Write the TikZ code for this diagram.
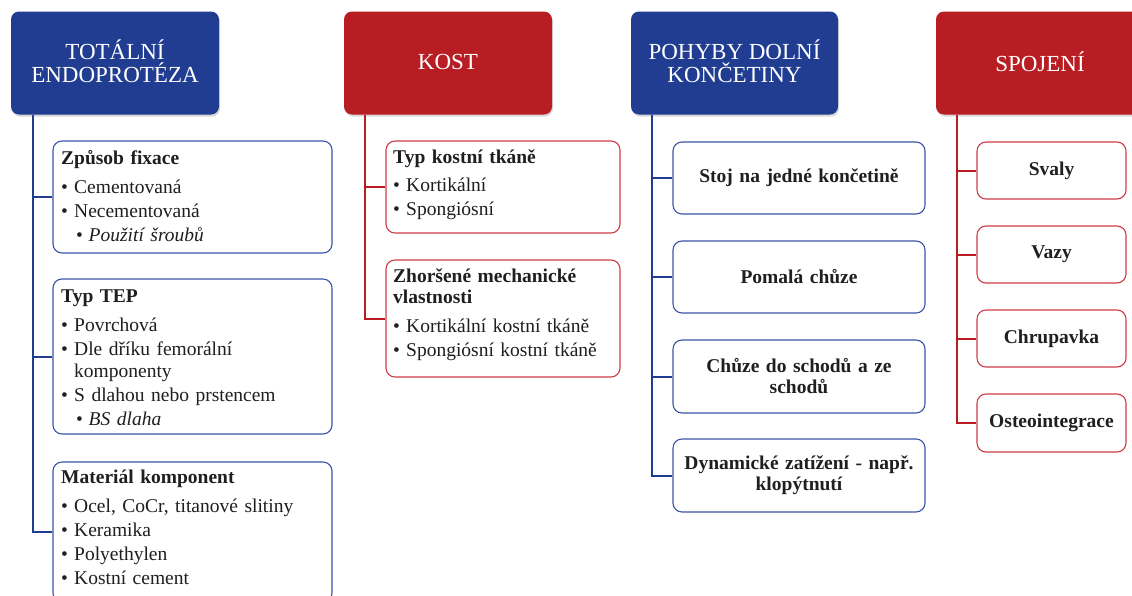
\documentclass[tikz,border=0pt]{standalone}
\usepackage{fontspec}
\setmainfont{Liberation Serif}
\usetikzlibrary{shadows}
\definecolor{hblue}{RGB}{32,61,145}
\definecolor{hred}{RGB}{184,29,36}
\definecolor{bblue}{RGB}{60,84,168}
\definecolor{bred}{RGB}{206,60,70}
\definecolor{txt}{RGB}{32,30,30}
\newcommand{\bl}[1]{\makebox[13pt][l]{\textbullet}#1}
\newcommand{\sbl}[1]{\hspace*{15pt}\makebox[12.5pt][l]{\textbullet}\textit{#1}}
\newcommand{\hng}[1]{\hspace*{13pt}#1}
\begin{document}
\begin{tikzpicture}[x=1pt,y=-1pt,
  hdr/.style={rounded corners=8pt, minimum width=208pt, minimum height=103pt, inner sep=0pt, drop shadow={shadow xshift=1pt,shadow yshift=-2pt,opacity=0.3}},
  hb/.style={hdr, fill=hblue},
  hr/.style={hdr, fill=hred},
  htxt/.style={align=center, text=white, inner sep=0pt, font=\fontsize{23}{23}\selectfont},
  box/.style={rounded corners=9pt, fill=white, line width=1.1pt, inner sep=0pt},
  bb/.style={box, draw=bblue},
  br/.style={box, draw=bred},
  lst/.style={anchor=base west, inner sep=0pt, text width=270pt, align=left, text=txt, font=\fontsize{19.5}{24}\selectfont},
  ctr/.style={text=txt, font=\bfseries\fontsize{19.5}{21}\selectfont, align=center},
  connb/.style={draw=hblue, line width=2pt},
  connr/.style={draw=hred, line width=2pt},
]
\clip (0,0) rectangle (1132,595);
\fill[white] (0,0) rectangle (1132,595);

% ---------- column 1
\node[hb] (h1) at (115,63) {};
\node[htxt] (h1t) at (115,61) {TOTÁLNÍ\\ENDOPROTÉZA};
\node[bb, minimum width=279pt, minimum height=112pt] (a1) at (192.5,197) {};
\node[bb, minimum width=279pt, minimum height=155pt] (a2) at (192.5,356.5) {};
\node[bb, minimum width=279pt, minimum height=140pt] (a3) at (192.5,532) {};
\node[lst] (ta1) at (61,164) {\textbf{Způsob fixace}\\[5pt]
  \bl{Cementovaná}\\
  \bl{Necementovaná}\\
  \sbl{Použití šroubů}};
\node[lst] (ta2) at (61,302) {\textbf{Typ TEP}\\[5pt]
  \bl{Povrchová}\\
  \bl{Dle dříku femorální}\\[-2pt]
  \hng{komponenty}\\
  \bl{S dlahou nebo prstencem}\\
  \sbl{BS dlaha}};
\node[lst] (ta3) at (61,483) {\textbf{Materiál komponent}\\[5pt]
  \bl{Ocel, CoCr, titanové slitiny}\\
  \bl{Keramika}\\
  \bl{Polyethylen}\\
  \bl{Kostní cement}};
\draw[connb] ([xshift=22pt]h1.south west) |- (a1.west);
\draw[connb] ([xshift=22pt]h1.south west) |- (a2.west);
\draw[connb] ([xshift=22pt]h1.south west) |- (a3.west);

% ---------- column 2
\node[hr] (h2) at (448,63) {};
\node[htxt] (h2t) at (448,62) {KOST};
\node[br, minimum width=234pt, minimum height=92pt] (b1) at (503,187) {};
\node[br, minimum width=234pt, minimum height=117pt] (b2) at (503,318.5) {};
\node[lst] (tb1) at (393,163) {\textbf{Typ kostní tkáně}\\[4pt]
  \bl{Kortikální}\\
  \bl{Spongiósní}};
\node[lst] (tb2) at (393,282) {\textbf{Zhoršené mechanické}\\[-3pt]
  \textbf{vlastnosti}\\[5pt]
  \bl{Kortikální kostní tkáně}\\
  \bl{Spongiósní kostní tkáně}};
\draw[connr] ([xshift=21pt]h2.south west) |- (b1.west);
\draw[connr] ([xshift=21pt]h2.south west) |- (b2.west);

% ---------- column 3
\node[hb, minimum width=207pt] (h3) at (734.5,63) {};
\node[htxt] (h3t) at (734.5,61) {POHYBY DOLNÍ\\KONČETINY};
\node[bb, ctr, minimum width=252pt, minimum height=72pt, text width=240pt] (c1) at (799,178) {Stoj na jedné končetině};
\node[bb, ctr, minimum width=252pt, minimum height=72pt, text width=240pt] (c2) at (799,277) {Pomalá chůze};
\node[bb, ctr, minimum width=252pt, minimum height=73pt, text width=240pt] (c3) at (799,376.5) {Chůze do schodů a ze\\schodů};
\node[bb, ctr, minimum width=252pt, minimum height=73pt, text width=240pt] (c4) at (799,475.5) {Dynamické zatížení - např.\\klopýtnutí};
\draw[connb] ([xshift=21pt]h3.south west) |- (c1.west);
\draw[connb] ([xshift=21pt]h3.south west) |- (c2.west);
\draw[connb] ([xshift=21pt]h3.south west) |- (c3.west);
\draw[connb] ([xshift=21pt]h3.south west) |- (c4.west);

% ---------- column 4
\node[hr] (h4) at (1040,63) {};
\node[htxt] (h4t) at (1040,62) {SPOJENÍ};
\node[br, ctr, minimum width=149pt, minimum height=57pt, text width=140pt] (d1) at (1051.5,170.5) {Svaly};
\node[br, ctr, minimum width=149pt, minimum height=57pt, text width=140pt] (d2) at (1051.5,254.5) {Vazy};
\node[br, ctr, minimum width=149pt, minimum height=57pt, text width=140pt] (d3) at (1051.5,338.5) {Chrupavka};
\node[br, ctr, minimum width=149pt, minimum height=58pt, text width=140pt] (d4) at (1051.5,423) {Osteointegrace};
\draw[connr] ([xshift=21pt]h4.south west) |- (d1.west);
\draw[connr] ([xshift=21pt]h4.south west) |- (d2.west);
\draw[connr] ([xshift=21pt]h4.south west) |- (d3.west);
\draw[connr] ([xshift=21pt]h4.south west) |- (d4.west);
\end{tikzpicture}
\end{document}
